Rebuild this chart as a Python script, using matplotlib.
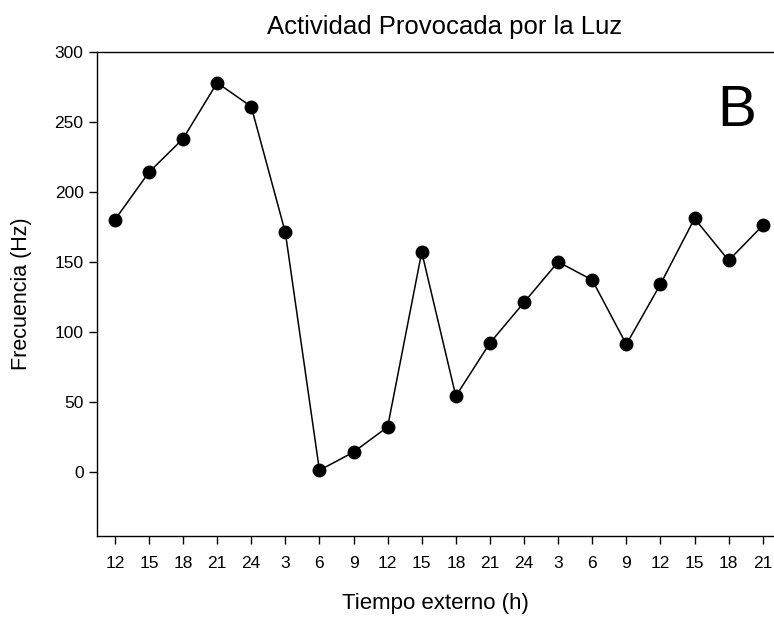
import numpy as np
import matplotlib.pyplot as plt

plt.rcParams['font.family'] = ['Liberation Sans', 'DejaVu Sans']

# tiempo externo (h) y frecuencia (Hz)
horas = ['12', '15', '18', '21', '24', '3', '6', '9', '12', '15',
         '18', '21', '24', '3', '6', '9', '12', '15', '18', '21']
frecuencia = [180, 214, 238, 278, 261, 171, 1, 14, 32, 157,
              54, 92, 121, 150, 137, 91, 134, 181, 151, 176]
yticks = [0, 50, 100, 150, 200, 250, 300]

x = np.arange(len(horas))

fig = plt.figure(figsize=(7.74, 6.19), dpi=100)
ax = fig.add_axes([0.125, 0.134, 0.875, 0.782])

ax.plot(x, frecuencia, color='black', lw=1.1, marker='o', ms=9,
        markerfacecolor='black', markeredgecolor='black')

ax.set_xlim(-0.53, 19.33)
ax.set_ylim(-46, 300)
ax.set_xticks(x)
ax.set_xticklabels(horas)
ax.set_yticks(yticks)
ax.tick_params(axis='both', direction='out', length=5.5, width=1,
               labelsize=12.5, colors='black')
ax.tick_params(axis='x', pad=9)
ax.tick_params(axis='y', pad=4)

ax.spines['right'].set_visible(False)
for s in ['left', 'bottom', 'top']:
    ax.spines[s].set_linewidth(1.0)

ax.set_title('Actividad Provocada por la Luz', fontsize=18.5, pad=13, x=0.513)
ax.set_xlabel('Tiempo externo (h)', fontsize=16, labelpad=16)
ax.set_ylabel('Frecuencia (Hz)', fontsize=15.5, labelpad=16)

ax.text(18.24, 258, 'B', fontsize=42, ha='center', va='center')

fig.savefig('out.png', dpi=100)
